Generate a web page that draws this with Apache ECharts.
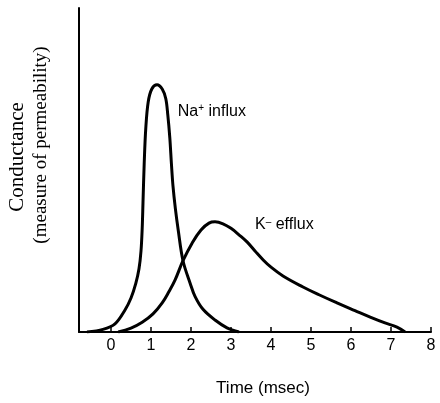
<!DOCTYPE html>
<html>
<head>
<meta charset="utf-8">
<script src="https://cdn.jsdelivr.net/npm/echarts@6/dist/echarts.min.js"></script>
<style>
  html, body { margin: 0; padding: 0; background: #fff; }
  #chart { width: 440px; height: 403px; }
</style>
</head>
<body>
<div id="chart"></div>
<script>
// time axis ticks (msec)
const timeTicks = [0, 1, 2, 3, 4, 5, 6, 7, 8]

// Na+ influx conductance, [time, value]
const naInflux = [
  [-0.6, 0], [-0.2, 0.8], [0.1, 2.5], [0.35, 6.8], [0.5, 10.5], [0.62, 15],
  [0.7, 19.5], [0.75, 25], [0.78, 32], [0.8, 40], [0.83, 52], [0.87, 63],
  [0.93, 71], [1.02, 75], [1.15, 76.3], [1.28, 75], [1.37, 72], [1.42, 67],
  [1.47, 60], [1.51, 52], [1.55, 45], [1.61, 38], [1.68, 31.5], [1.8, 22],
  [1.98, 15], [2.1, 11], [2.3, 7], [2.6, 3.7], [2.9, 1.3], [3.2, 0]
]

// K efflux conductance
const kEfflux = [
  [0.18, 0], [0.5, 1.2], [0.78, 3], [1.05, 5.6], [1.28, 9], [1.45, 12.5],
  [1.6, 16], [1.8, 22], [2.03, 27.5], [2.25, 31.5], [2.45, 33.6], [2.6, 34],
  [2.8, 33.4], [3.0, 32], [3.2, 30], [3.4, 27.8], [3.6, 25], [3.8, 22.3],
  [4.0, 20], [4.3, 17.3], [4.8, 13.9], [5.2, 11.5], [5.65, 9], [6.1, 6.6],
  [6.48, 4.6], [6.85, 2.8], [7.15, 1.5], [7.35, 0]
]

const chart = echarts.init(document.getElementById('chart'))

const curveStyle = { color: '#000', width: 3 }

chart.setOption({
  animation: false,
  backgroundColor: '#fff',
  grid: { left: 79, right: 9, top: 8, bottom: 71 },
  xAxis: {
    type: 'value',
    min: -0.8,
    max: 8,
    splitLine: { show: false },
    axisLine: { onZero: false, lineStyle: { color: '#000', width: 2 } },
    axisTick: { show: true, inside: true, length: 5, customValues: timeTicks, lineStyle: { color: '#000', width: 1.5 } },
    axisLabel: { customValues: timeTicks, color: '#000', fontFamily: 'Liberation Sans', fontSize: 16, margin: 6 },
    name: 'Time (msec)',
    nameLocation: 'middle',
    nameGap: 48,
    nameTextStyle: { color: '#000', fontFamily: 'Liberation Sans', fontSize: 17, padding: [0, 0, 0, 16] }
  },
  yAxis: {
    type: 'value',
    min: 0,
    max: 100,
    splitLine: { show: false },
    axisTick: { show: false },
    axisLabel: { show: false },
    axisLine: { show: true, onZero: false, lineStyle: { color: '#000', width: 2 } }
  },
  series: [
    {
      name: 'Na+ influx',
      type: 'line',
      data: naInflux,
      smooth: 0.35,
      symbol: 'none',
      lineStyle: curveStyle
    },
    {
      name: 'K efflux',
      type: 'line',
      data: kEfflux,
      smooth: 0.4,
      symbol: 'none',
      lineStyle: curveStyle
    }
  ]
})

// labels on the curves, placed through the chart's own scales
const naPos = chart.convertToPixel({ gridIndex: 0 }, [1.67, 68])
const kPos = chart.convertToPixel({ gridIndex: 0 }, [3.6, 33])

const labelRich = {
  sup: { fontSize: 10, fontFamily: 'Liberation Sans', color: '#000', verticalAlign: 'top', padding: [0, 0, 6, 0] },
  txt: { fontSize: 16, fontFamily: 'Liberation Sans', color: '#000' }
}

chart.setOption({
  graphic: [
    {
      type: 'text', x: naPos[0], y: naPos[1],
      style: { text: '{txt|Na}{sup|+}{txt| influx}', rich: labelRich, textVerticalAlign: 'middle' }
    },
    {
      type: 'text', x: kPos[0], y: kPos[1],
      style: { text: '{txt|K}{sup|\u2013}{txt| efflux}', rich: labelRich, textVerticalAlign: 'middle' }
    },
    {
      type: 'text', x: 17, y: 157, rotation: Math.PI / 2,
      style: { text: 'Conductance', font: '21px "Liberation Serif"', fill: '#000', align: 'center', verticalAlign: 'middle' }
    },
    {
      type: 'text', x: 41, y: 145, rotation: Math.PI / 2,
      style: { text: '(measure of permeability)', font: '19px "Liberation Serif"', fill: '#000', align: 'center', verticalAlign: 'middle' }
    }
  ]
})
</script>
</body>
</html>
